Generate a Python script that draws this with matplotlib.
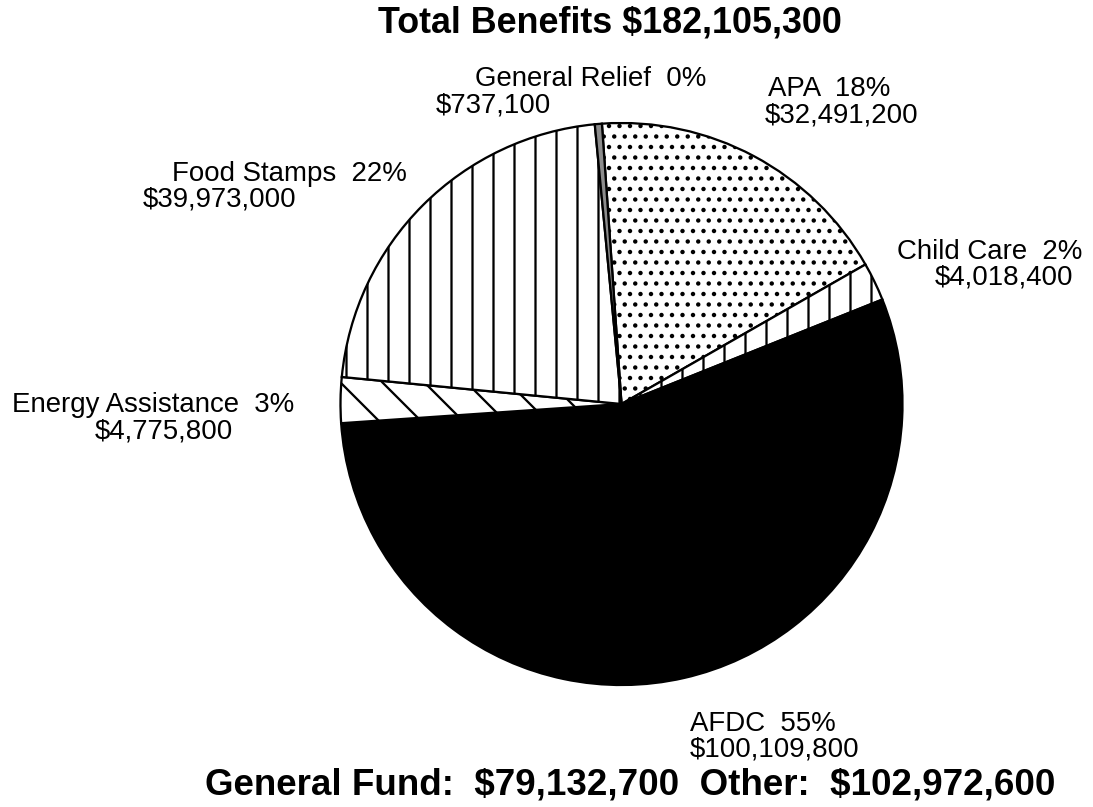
import matplotlib
matplotlib.use('Agg')
import matplotlib.pyplot as plt

# benefit programs, clockwise from the top of the pie
programs = ['APA', 'Child Care', 'AFDC', 'Energy Assistance', 'Food Stamps', 'General Relief']
amounts = [32491200, 4018400, 100109800, 4775800, 39973000, 737100]
general_fund = 79132700
other_funds = 102972600

total = sum(amounts)
W, H, DPI = 1093, 807, 126

plt.rcParams['font.family'] = ['Liberation Sans', 'DejaVu Sans']
plt.rcParams['hatch.linewidth'] = 1.3
plt.rcParams['hatch.color'] = 'black'

fig = plt.figure(figsize=(W / DPI, H / DPI), dpi=DPI, facecolor='white')
ax = fig.add_axes([0, 0, 1, 1])

fills = ['white', 'white', 'black', 'white', 'white', '0.55']
hatches = ['..', '|', None, '\\', '|', None]

wedges, _ = ax.pie(amounts, startangle=94, counterclock=False,
                   center=(621.5, H - 404), radius=281,
                   colors=fills, hatch=hatches,
                   wedgeprops=dict(edgecolor='black', linewidth=1.3))
ax.set_xlim(0, W)
ax.set_ylim(0, H)
ax.set_aspect('equal')
ax.axis('off')


def money(v):
    return '${:,}'.format(v)


def pct(v):
    return '{:.0f}%'.format(100 * v / total)


def label(x, y, s, size=15.8, weight='normal', ha='left'):
    # x, y in pixels from the top-left corner, y is the baseline
    fig.text(x / W, 1 - y / H, s, fontsize=size, fontweight=weight,
             ha=ha, va='baseline', parse_math=False)


label(610, 33, 'Total Benefits ' + money(total), size=20.5, weight='bold', ha='center')

# label positions: (name line x, y), (amount line x, y)
spots = {
    'APA': ((768, 96), (765, 122)),
    'Child Care': ((897, 259), (935, 285)),
    'AFDC': ((690, 731), (690, 757)),
    'Energy Assistance': ((12, 412), (95, 439)),
    'Food Stamps': ((172, 181), (143, 206)),
    'General Relief': ((475, 86), (436, 112)),
}
for name, amt in zip(programs, amounts):
    (x1, y1), (x2, y2) = spots[name]
    label(x1, y1, name + '  ' + pct(amt))
    label(x2, y2, money(amt))

label(205, 795, 'General Fund:  {}  Other:  {}'.format(money(general_fund), money(other_funds)),
      size=21, weight='bold')

fig.savefig('out.png', dpi=DPI, facecolor='white')
